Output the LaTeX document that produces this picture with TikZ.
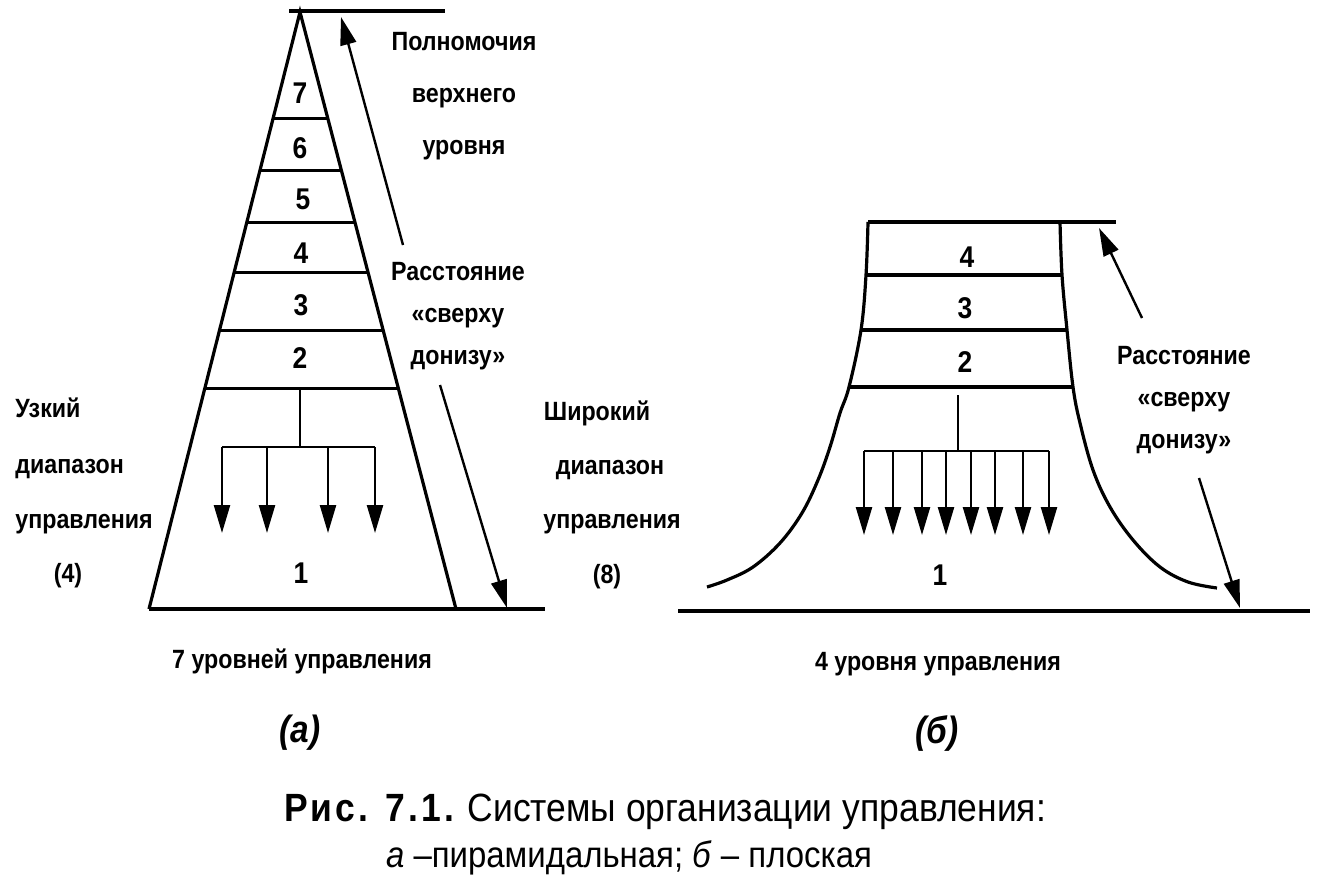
\documentclass[tikz,border=0pt]{standalone}
\usepackage{fontspec}
\setmainfont{Liberation Sans}
\newfontfamily\lblfont[FakeStretch=0.88]{Liberation Sans}
\newfontfamily\capfont[FakeStretch=0.9]{Liberation Sans}
\usetikzlibrary{positioning,calc,arrows.meta}

\tikzset{
  lbl/.style={font=\lblfont\bfseries\fontsize{13.2}{16}\selectfont, inner sep=0pt, text height=1.5ex, text depth=.25ex},
  num/.style={font=\lblfont\bfseries\fontsize{15}{17}\selectfont, inner sep=0pt},
  sublbl/.style={font=\lblfont\bfseries\itshape\fontsize{19}{22}\selectfont, inner sep=0pt},
  captext/.style={font=\capfont\fontsize{19.7}{22}\selectfont, inner sep=0pt},
  outline/.style={line width=1.6pt},
  branch/.style={line width=1.2pt},
  arr/.style={-{Triangle[length=14pt,width=8pt]}, line width=1.2pt}
}

\begin{document}
\begin{tikzpicture}[x=0.5pt, y=-0.5pt, node distance=26pt]
\useasboundingbox (0,0) rectangle (1326,894);

% (a) pyramid
\coordinate (T) at (300,12);
\coordinate (L) at (149,609);
\coordinate (R) at (456,609);
\coordinate (TA) at (289,11);
\coordinate (TB) at (445,11);
\coordinate (BB) at (545,609);
\draw[outline] (L) -- (T) -- (R);
\draw[outline] (TA) -- (TB);
\draw[outline] (L) -- (BB);
\draw[outline] ($(T)!0.178!(L)$) -- ($(T)!0.178!(R)$);
\draw[outline] ($(T)!0.265!(L)$) -- ($(T)!0.265!(R)$);
\draw[outline] ($(T)!0.352!(L)$) -- ($(T)!0.352!(R)$);
\draw[outline] ($(T)!0.436!(L)$) -- ($(T)!0.436!(R)$);
\draw[outline] ($(T)!0.533!(L)$) -- ($(T)!0.533!(R)$);
\draw[outline] ($(T)!0.631!(L)$) -- ($(T)!0.631!(R)$);

\node[num] (P7) at (300,93) {7};
\node[num] (P6) at (300,148) {6};
\node[num] (P5) at (303,199) {5};
\node[num] (P4) at (301,253) {4};
\node[num] (P3) at (301,305) {3};
\node[num] (P2) at (300,358) {2};
\node[num] (P1) at (301,573) {1};

% span of 4
\coordinate (K) at (300,389);
\coordinate (J) at (300,447);
\coordinate (J1) at (222,447);
\coordinate (J2) at (267,447);
\coordinate (J3) at (328,447);
\coordinate (J4) at (375,447);
\coordinate (E) at (300,533);
\draw[branch] (K) -- (J);
\draw[branch] (J1) -- (J4);
\draw[arr] (J1) -- (J1 |- E);
\draw[arr] (J2) -- (J2 |- E);
\draw[arr] (J3) -- (J3 |- E);
\draw[arr] (J4) -- (J4 |- E);

% top-down distance
\coordinate (U1) at (403,245);
\coordinate (U2) at (341,17);
\coordinate (D1) at (440,385);
\coordinate (D2) at (507,608);
\draw[arr] (U1) -- (U2);
\draw[arr] (D1) -- (D2);

\node[lbl] (POW) at (464,44) {Полномочия};
\node[lbl, below of=POW] (UPP) {верхнего};
\node[lbl, below of=UPP] (LEV) {уровня};
\node[lbl] (DA) at (458,274) {Расстояние};
\node[lbl, below of=DA, node distance=21pt] (DB) {«сверху};
\node[lbl, below of=DB, node distance=21pt] (DC) {донизу»};

\node[lbl, anchor=west] (NA) at (15,411) {Узкий};
\node[lbl, anchor=west] (NB) at (15,467) {диапазон};
\node[lbl, anchor=west] (NC) at (15,522) {управления};
\node[lbl] (ND) at (68,576) {(4)};

\node[lbl] (WA) at (597,414) {Широкий};
\node[lbl] (WB) at (610,468) {диапазон};
\node[lbl] (WC) at (612,522) {управления};
\node[lbl] (WD) at (607,577) {(8)};

\node[lbl] (SA) at (302,662) {7 уровней управления};
\node[sublbl] (A) at (300,733) {(а)};

% (б) flat
\coordinate (FL0) at (868,222);
\coordinate (FL1) at (866,275);
\coordinate (FL2) at (861,330);
\coordinate (FL3) at (849,387);
\coordinate (FR0) at (1060,222);
\coordinate (FR1) at (1062,275);
\coordinate (FR2) at (1067,330);
\coordinate (FR3) at (1073,387);
\coordinate (FT) at (1116,222);
\coordinate (GA) at (678,611);
\coordinate (GB) at (1310,611);
\draw[outline] (FL0) -- (FT);
\draw[outline] (GA) -- (GB);
\draw[outline] plot[smooth, tension=0.6] coordinates {(FL0) (FL1) (FL2) (FL3) (840,413) (830,447) (818,480) (802,513) (780,543) (753,567) (727,580) (707,587)};
\draw[outline] plot[smooth, tension=0.6] coordinates {(FR0) (FR1) (FR2) (FR3) (1080,423) (1093,470) (1110,507) (1133,540) (1160,567) (1188,582) (1217,588)};
\draw[outline] (FL1) -- (FR1);
\draw[outline] (FL2) -- (FR2);
\draw[outline] (FL3) -- (FR3);

\node[num] (F4) at (967,257) {4};
\node[num] (F3) at (965,308) {3};
\node[num] (F2) at (965,362) {2};
\node[num] (F1) at (940,575) {1};

% span of 8
\coordinate (FK) at (958,395);
\coordinate (FJ) at (958,451);
\coordinate (G1) at (864,451);
\coordinate (G2) at (893,451);
\coordinate (G3) at (922,451);
\coordinate (G4) at (946,451);
\coordinate (G5) at (971,451);
\coordinate (G6) at (995,451);
\coordinate (G7) at (1023,451);
\coordinate (G8) at (1049,451);
\coordinate (FE) at (958,535);
\draw[branch] (FK) -- (FJ);
\draw[branch] (G1) -- (G8);
\draw[arr] (G1) -- (G1 |- FE);
\draw[arr] (G2) -- (G2 |- FE);
\draw[arr] (G3) -- (G3 |- FE);
\draw[arr] (G4) -- (G4 |- FE);
\draw[arr] (G5) -- (G5 |- FE);
\draw[arr] (G6) -- (G6 |- FE);
\draw[arr] (G7) -- (G7 |- FE);
\draw[arr] (G8) -- (G8 |- FE);

\coordinate (V1) at (1142,318);
\coordinate (V2) at (1099,228);
\coordinate (H1) at (1199,478);
\coordinate (H2) at (1240,608);
\draw[arr] (V1) -- (V2);
\draw[arr] (H1) -- (H2);

\node[lbl] (EA) at (1184,358) {Расстояние};
\node[lbl, below of=EA, node distance=21pt] (EB) {«сверху};
\node[lbl, below of=EB, node distance=21pt] (EC) {донизу»};

\node[lbl] (SB) at (938,664) {4 уровня управления};
\node[sublbl] (B) at (937,733) {(б)};

% caption
\node[captext] (C1) at (665,812) {{\bfseries\addfontfeature{LetterSpace=8}Рис. 7.1.} Системы организации управления:};
\node[captext, font=\capfont\fontsize{18.3}{22}\selectfont] (C2) at (629,858) {\textit{а} –пирамидальная; \textit{б} – плоская};
\end{tikzpicture}
\end{document}
